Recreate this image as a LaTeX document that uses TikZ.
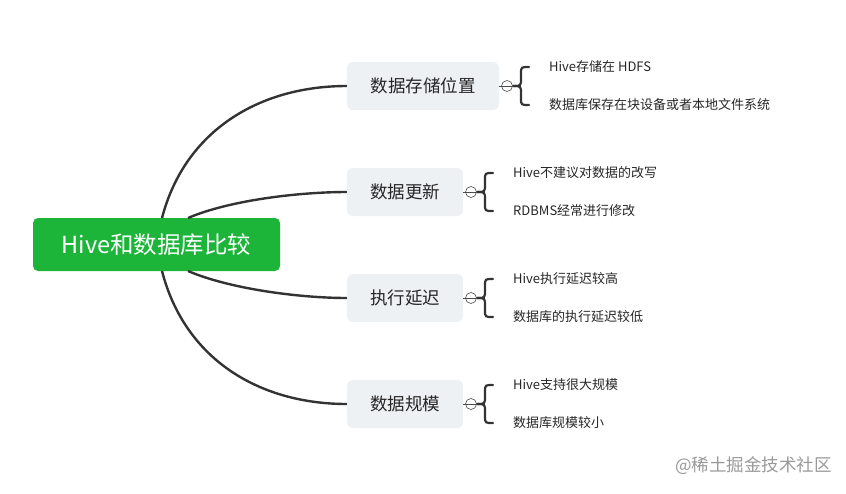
\documentclass[tikz,border=0pt]{standalone}
\usepackage{fontspec}
\setmainfont{Noto Sans CJK SC}
\begin{document}
\begin{tikzpicture}[x=1pt,y=-1pt,
 root/.style={fill=rootg,rounded corners=5pt,minimum width=247pt,minimum height=53pt,text=white,font=\fontsize{23.5}{26}\selectfont,inner sep=0pt},
 br/.style={fill=brg,rounded corners=6pt,minimum height=48pt,font=\fontsize{17.5}{20}\selectfont,text=black!85,inner sep=0pt},
 leaf/.style={anchor=west,font=\fontsize{13}{15}\selectfont,text=black!85,inner sep=0pt},
 conn/.style={draw=black!80,line width=2.4pt},
 brace/.style={draw=black!80,line width=2.2pt,line cap=round},
 tog/.style={circle,draw=black!70,fill=white,minimum size=11pt,inner sep=0pt,line width=0.6pt}]
\definecolor{rootg}{HTML}{1DB43A}
\definecolor{brg}{HTML}{EEF1F4}
\useasboundingbox (0,0) rectangle (846,493);
\node[root] (r) at (156.5,244.5) {Hive和数据库比较};
\node[br,minimum width=152pt] (b1) at (423,86) {数据存储位置};
\node[br,minimum width=116pt] (b2) at (405,192) {数据更新};
\node[br,minimum width=116pt] (b3) at (405,298) {执行延迟};
\node[br,minimum width=116pt] (b4) at (405,404) {数据规模};
\coordinate (s1) at (162,218); \coordinate (s2) at (188,218);
\coordinate (s3) at (188,271); \coordinate (s4) at (162,271);
\draw[conn] (s1) .. controls (185,130) and (260,86) .. (b1.west);
\draw[conn] (s2) .. controls (230,200) and (300,192) .. (b2.west);
\draw[conn] (s3) .. controls (230,289) and (300,298) .. (b3.west);
\draw[conn] (s4) .. controls (185,360) and (260,404) .. (b4.west);
\foreach \b/\cx/\y/\ta/\tb [count=\i] in {b1/507/86/Hive存储在 HDFS/数据库保存在块设备或者本地文件系统,b2/471/192/Hive不建议对数据的改写/RDBMS经常进行修改,b3/471/298/Hive执行延迟较高/数据库的执行延迟较低,b4/471/404/Hive支持很大规模/数据库规模较小}{
 \coordinate (c\i) at (\cx,\y);
 \draw[black!70,line width=0.6pt] (\b.east) -- (c\i);
 \draw[brace] (\cx+6,\y) .. controls (\cx+14,\y) .. (\cx+14,\y-8) -- (\cx+14,\y-12) .. controls (\cx+14,\y-19) .. (\cx+22,\y-19);
 \draw[brace] (\cx+6,\y) .. controls (\cx+14,\y) .. (\cx+14,\y+8) -- (\cx+14,\y+12) .. controls (\cx+14,\y+19) .. (\cx+22,\y+19);
 \node[tog] (t\i) at (c\i) {};
 \draw[black!70,line width=0.6pt] (t\i.west) -- (t\i.east);
 \node[leaf] (la\i) at (\cx+42,\y-19) {\ta};
 \node[leaf] (lb\i) at (\cx+42,\y+19) {\tb};
}
\node[anchor=east,text=black!40,font=\fontsize{17.5}{20}\selectfont,inner sep=0pt] (wm) at (832,466) {@稀土掘金技术社区};
\end{tikzpicture}
\end{document}
